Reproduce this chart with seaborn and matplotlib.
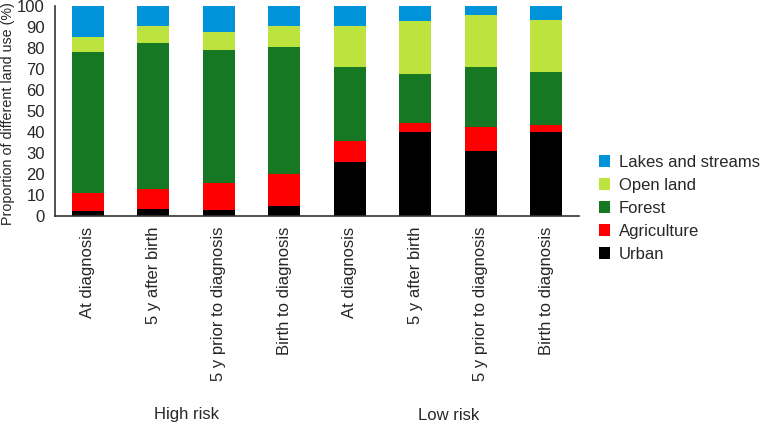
import matplotlib
matplotlib.use("Agg")
import matplotlib.pyplot as plt
import seaborn as sns
import pandas as pd
import numpy as np
from matplotlib.patches import Patch

periods = ["At diagnosis", "5 y after birth", "5 y prior to diagnosis", "Birth to diagnosis"]
groups = ["High risk", "Low risk"]
categories = ["Urban", "Agriculture", "Forest", "Open land", "Lakes and streams"]
colors = ["#000000", "#FF0000", "#167823", "#BDE33F", "#0093D9"]

urban       = [2.4, 3.0, 2.9, 4.8, 25.5, 40.1, 31.0, 40.1]
agriculture = [8.3, 9.7, 12.6, 15.2, 10.1, 4.1, 11.4, 3.2]
forest      = [67.5, 69.8, 63.7, 60.6, 35.5, 23.5, 28.7, 25.2]
open_land   = [7.0, 8.1, 8.4, 9.9, 19.4, 25.0, 24.5, 24.7]
lakes       = [14.8, 9.4, 12.4, 9.5, 9.5, 7.3, 4.4, 6.8]

series = [urban, agriculture, forest, open_land, lakes]
keys = [f"{g}|{p}" for g in groups for p in periods]
labels = [p for g in groups for p in periods]

rows = []
for cat, vals in zip(categories, series):
    for k, v in zip(keys, vals):
        rows.append({"key": k, "category": cat, "value": v})
df = pd.DataFrame(rows)
df["cum"] = df.groupby("key")["value"].cumsum()

sns.set_style("white")
plt.rcParams["font.family"] = ["Liberation Sans", "DejaVu Sans"]

fig = plt.figure(figsize=(7.6, 4.25), dpi=100)
W, H = 760, 425
ax = fig.add_axes([55 / W, 1 - 215.7 / H, (579 - 55) / W, (215.7 - 6) / H])

for cat, col in reversed(list(zip(categories, colors))):
    sub = df[df["category"] == cat]
    sns.barplot(data=sub, x="key", y="cum", order=keys, color=col, width=0.49,
                saturation=1, ax=ax, linewidth=0)

ax.set_xlim(-0.5, 7.5)
ax.set_ylim(0, 100)
ax.set_yticks(range(0, 101, 10))
ax.set_xticks(range(len(keys)))
ax.set_xticklabels(labels, rotation=90, fontsize=12)
ax.tick_params(axis="x", length=0, pad=8)
ax.tick_params(axis="y", direction="out", length=5.2, width=1, color="#333333", labelsize=12, pad=2)
ax.set_xlabel("")
ax.set_ylabel("")
for s in ["top", "right"]:
    ax.spines[s].set_visible(False)
for s in ["bottom", "left"]:
    ax.spines[s].set_color("#333333")
    ax.spines[s].set_linewidth(1.2)

fig.text(8 / W, 1 - 225 / H, "Proportion of different land use (%)", rotation=90,
         ha="center", va="bottom", fontsize=10.3)

for g, cx in zip(groups, [186.5, 448.5]):
    fig.text(cx / W, 1 - 415 / H, g, ha="center", va="center", fontsize=12)

handles = [Patch(facecolor=c, edgecolor="none") for c in reversed(colors)]
leg = fig.legend(handles, list(reversed(categories)), loc="upper left",
                 bbox_to_anchor=(592 / W, 1 - 148 / H), frameon=False, fontsize=12,
                 handlelength=0.7, handleheight=0.7, handletextpad=0.5, labelspacing=0.48,
                 borderaxespad=0)

fig.savefig("out.png", dpi=100)
